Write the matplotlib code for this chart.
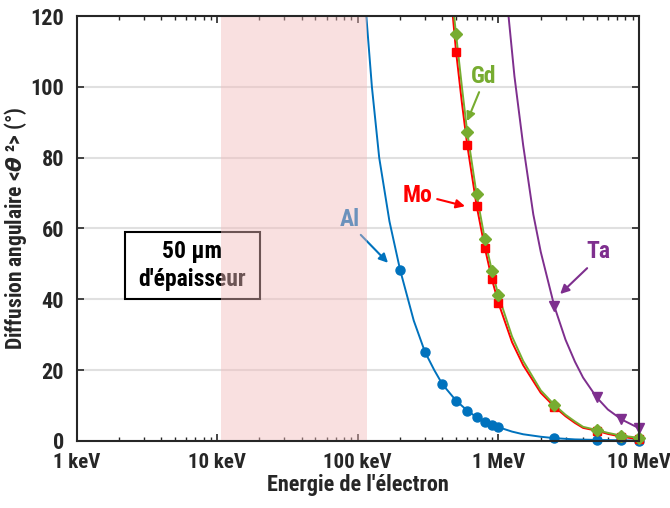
import matplotlib
matplotlib.use("Agg")
import matplotlib.pyplot as plt
import matplotlib.ticker as mticker
from matplotlib.patches import Rectangle

# electron energy (keV) and mean square scattering angle (deg)
E_al = [200, 300, 400, 500, 600, 700, 800, 900, 1000, 2500, 5000, 7500, 10000]
theta_al = [48.3, 25.2, 16.0, 11.4, 8.6, 6.7, 5.4, 4.5, 3.9, 0.8, 0.3, 0.2, 0.1]

E_mo = [500, 600, 700, 800, 900, 1000, 2500, 5000, 7500, 10000]
theta_mo = [109.9, 83.6, 66.4, 54.6, 45.6, 39.0, 9.7, 2.9, 1.2, 0.5]
theta_gd = [114.8, 87.3, 69.6, 57.0, 48.0, 41.2, 10.2, 3.1, 1.5, 0.9]

E_ta = [2500, 5000, 7500, 10000]
theta_ta = [38.0, 12.3, 6.1, 3.6]

# extra points (no markers)
al_curve_E = [115, 126, 142, 168, 250, 350, 1250, 1500, 2000, 3500]
al_curve = [120, 100, 80, 62, 34, 20, 2.65, 1.9, 1.2, 0.45]
mo_curve_E = [474, 550, 1250, 1500, 2000, 3000, 3500, 4000, 6000]
mo_curve = [120, 95.5, 27.9, 21.4, 13.6, 7.0, 5.1, 3.7, 2.0]
gd_curve_E = [484, 550, 1250, 1500, 2000, 3000, 3500, 4000, 6000]
gd_curve = [120, 100, 29.5, 22.6, 14.3, 7.4, 5.5, 4.0, 2.3]
ta_curve_E = [1180, 1300, 1500, 1770, 2000, 3000, 3500, 4000, 6000]
ta_curve = [120, 103, 83.5, 64, 53.4, 28.6, 22.4, 17.9, 8.9]

thickness_band = (10.7, 117)   # keV
x_ticks = [1, 10, 100, 1000, 10000]
x_ticklabels = ["1 keV", "10 keV", "100 keV", "1 MeV", "10 MeV"]

C_AL, C_MO, C_GD, C_TA = "#0072BD", "#FF0000", "#77AC30", "#7E2F8E"
TXT = "#262626"

plt.rcParams.update({
    "font.family": ["Roboto Condensed", "Archivo Narrow", "PT Sans Narrow",
                    "Liberation Sans Narrow", "Sofia Sans Condensed", "Liberation Sans"],
    "font.weight": "bold",
    "axes.labelweight": "bold",
    "font.size": 16,
    "mathtext.fontset": "dejavusans",
})


def merged(e1, v1, e2, v2):
    pts = sorted(zip(list(e1) + list(e2), list(v1) + list(v2)))
    return [p[0] for p in pts], [p[1] for p in pts]


fig = plt.figure(figsize=(6.7, 5.08), dpi=100)
ax = fig.add_axes([0.1142, 0.1319, 0.8396, 0.8366])
ax.set_xscale("log")
ax.set_xlim(1, 10000)
ax.set_ylim(0, 120)

series = [
    (E_al, theta_al, al_curve_E, al_curve, C_AL, "o", 6.5),
    (E_mo, theta_mo, mo_curve_E, mo_curve, C_MO, "s", 5.5),
    (E_mo, theta_gd, gd_curve_E, gd_curve, C_GD, "D", 6),
    (E_ta, theta_ta, ta_curve_E, ta_curve, C_TA, "v", 7.5),
]
for e, v, ce, cv, col, mk, ms in series:
    xe, yv = merged(e, v, ce, cv)
    ax.plot(xe, yv, color=col, lw=1.4, zorder=2)
    ax.plot(e, v, ls="none", marker=mk, ms=ms, color=col, zorder=3, clip_on=False)

# thickness box
ax.add_patch(Rectangle((0.0862, 0.334), 0.24, 0.158, transform=ax.transAxes,
                       fill=False, ec="black", lw=1.5, zorder=3))
ax.text(0.206, 0.413, "50 µm\nd'épaisseur", transform=ax.transAxes,
        ha="center", va="center", fontsize=17, linespacing=1.25, zorder=3)

# labels with arrows
arrow = dict(arrowstyle="-|>", lw=1.5, mutation_scale=13, shrinkA=0, shrinkB=0)
ax.annotate("", xy=(164, 50.3), xytext=(105, 58.2),
            arrowprops=dict(arrow, color=C_AL), zorder=3)
ax.text(88, 62.4, "Al", color=C_AL, ha="center", va="center", fontsize=17, zorder=3)
ax.annotate("", xy=(579, 66.3), xytext=(367, 68.3),
            arrowprops=dict(arrow, color=C_MO), zorder=5)
ax.text(268, 69.2, "Mo", color=C_MO, ha="center", va="center", fontsize=17, zorder=5)
ax.annotate("", xy=(599, 90.3), xytext=(729, 98.5),
            arrowprops=dict(arrow, color=C_GD), zorder=5)
ax.text(791, 102.8, "Gd", color=C_GD, ha="center", va="center", fontsize=17, zorder=5)
ax.annotate("", xy=(2748, 41.5), xytext=(4275, 48.8),
            arrowprops=dict(arrow, color=C_TA), zorder=5)
ax.text(5116, 53.4, "Ta", color=C_TA, ha="center", va="center", fontsize=17, zorder=5)

# shaded thickness range drawn over box and ticks
ax.axvspan(*thickness_band, color="#f2bbbb", alpha=0.45, lw=0, zorder=4)

ax.set_axisbelow(True)
ax.yaxis.grid(True, color="#e0e0e0", lw=1.5)
ax.set_yticks(range(0, 121, 20))
ax.set_xticks(x_ticks)
ax.set_xticklabels(x_ticklabels)
ax.xaxis.set_minor_locator(mticker.LogLocator(base=10, subs=range(2, 10), numticks=20))
ax.xaxis.set_minor_formatter(mticker.NullFormatter())
ax.tick_params(which="both", direction="in", top=True, right=True, color=TXT,
               labelcolor=TXT)
ax.tick_params(which="major", length=5, width=1.2)
ax.tick_params(axis="x", which="major", pad=9, labelsize=15)
ax.tick_params(axis="y", which="major", pad=9)
ax.tick_params(which="minor", length=3, width=1.0)
for s in ax.spines.values():
    s.set_color(TXT)
    s.set_linewidth(1.5)
    s.set_zorder(6)

ax.set_xlabel("Energie de l'électron", color=TXT, labelpad=1)
ax.set_ylabel(r"Diffusion angulaire <$\theta$ ²> (°)", color=TXT, labelpad=1,
              fontsize=15.5)

fig.savefig("out.png", dpi=100)
